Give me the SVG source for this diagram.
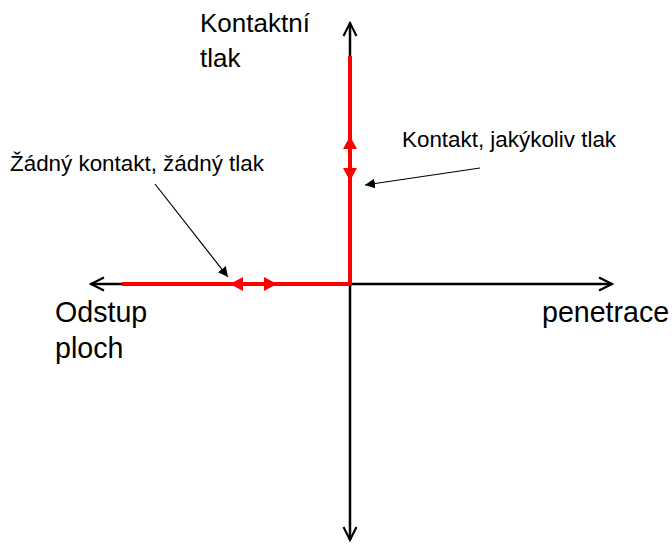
<svg xmlns="http://www.w3.org/2000/svg" width="672" height="544" viewBox="0 0 672 544">
<defs>
<marker id="open" viewBox="0 0 10 10" refX="9" refY="5" markerWidth="6.5" markerHeight="6.5" orient="auto-start-reverse" markerUnits="strokeWidth">
<path d="M1,1 L9,5 L1,9" fill="none" stroke="#000" stroke-width="1.3"/>
</marker>
<marker id="tri" viewBox="0 0 10 10" refX="10" refY="5" markerWidth="10" markerHeight="10" orient="auto" markerUnits="userSpaceOnUse">
<path d="M0,0 L10,5 L0,10 Z" fill="#000"/>
</marker>
</defs>
<style>
.axis{stroke:#000;stroke-width:2.5;fill:none}
.red{stroke:#ff0000;stroke-width:4;fill:none}
.redhead{fill:#ff0000}
.ann{stroke:#000;stroke-width:1.2;fill:none}
text{font-family:"Liberation Sans",Arial,sans-serif;fill:#000}
</style>
<rect width="672" height="544" fill="#fff"/>
<g id="connectors">
<line class="axis" x1="350" y1="540" x2="350" y2="23" marker-start="url(#open)" marker-end="url(#open)"/>
<line class="axis" x1="91" y1="284" x2="612" y2="284" marker-start="url(#open)" marker-end="url(#open)"/>
<polyline class="red" points="350,56 350,284 122,284"/>
<polygon class="redhead" points="350,136 343,149 357,149"/>
<polygon class="redhead" points="350,181 343,168 357,168"/>
<polygon class="redhead" points="230,284 243,277 243,291"/>
<polygon class="redhead" points="277,284 264,277 264,291"/>
<line class="ann" x1="155" y1="184" x2="228" y2="277" marker-end="url(#tri)"/>
<line class="ann" x1="480" y1="168" x2="365" y2="185" marker-end="url(#tri)"/>
</g>
<g id="label-kontaktni-tlak">
<text x="200" y="32" font-size="26">Kontaktní</text>
<text x="200" y="67" font-size="26">tlak</text>
</g>
<g id="label-kontakt">
<text x="402" y="147" font-size="22.4">Kontakt, jakýkoliv tlak</text>
</g>
<g id="label-zadny">
<text x="10" y="171" font-size="22.4">Žádný kontakt, žádný tlak</text>
</g>
<g id="label-odstup">
<text x="55" y="322" font-size="28.6">Odstup</text>
<text x="55" y="358" font-size="28.6">ploch</text>
</g>
<g id="label-penetrace">
<text x="542" y="322" font-size="28.6">penetrace</text>
</g>
</svg>
